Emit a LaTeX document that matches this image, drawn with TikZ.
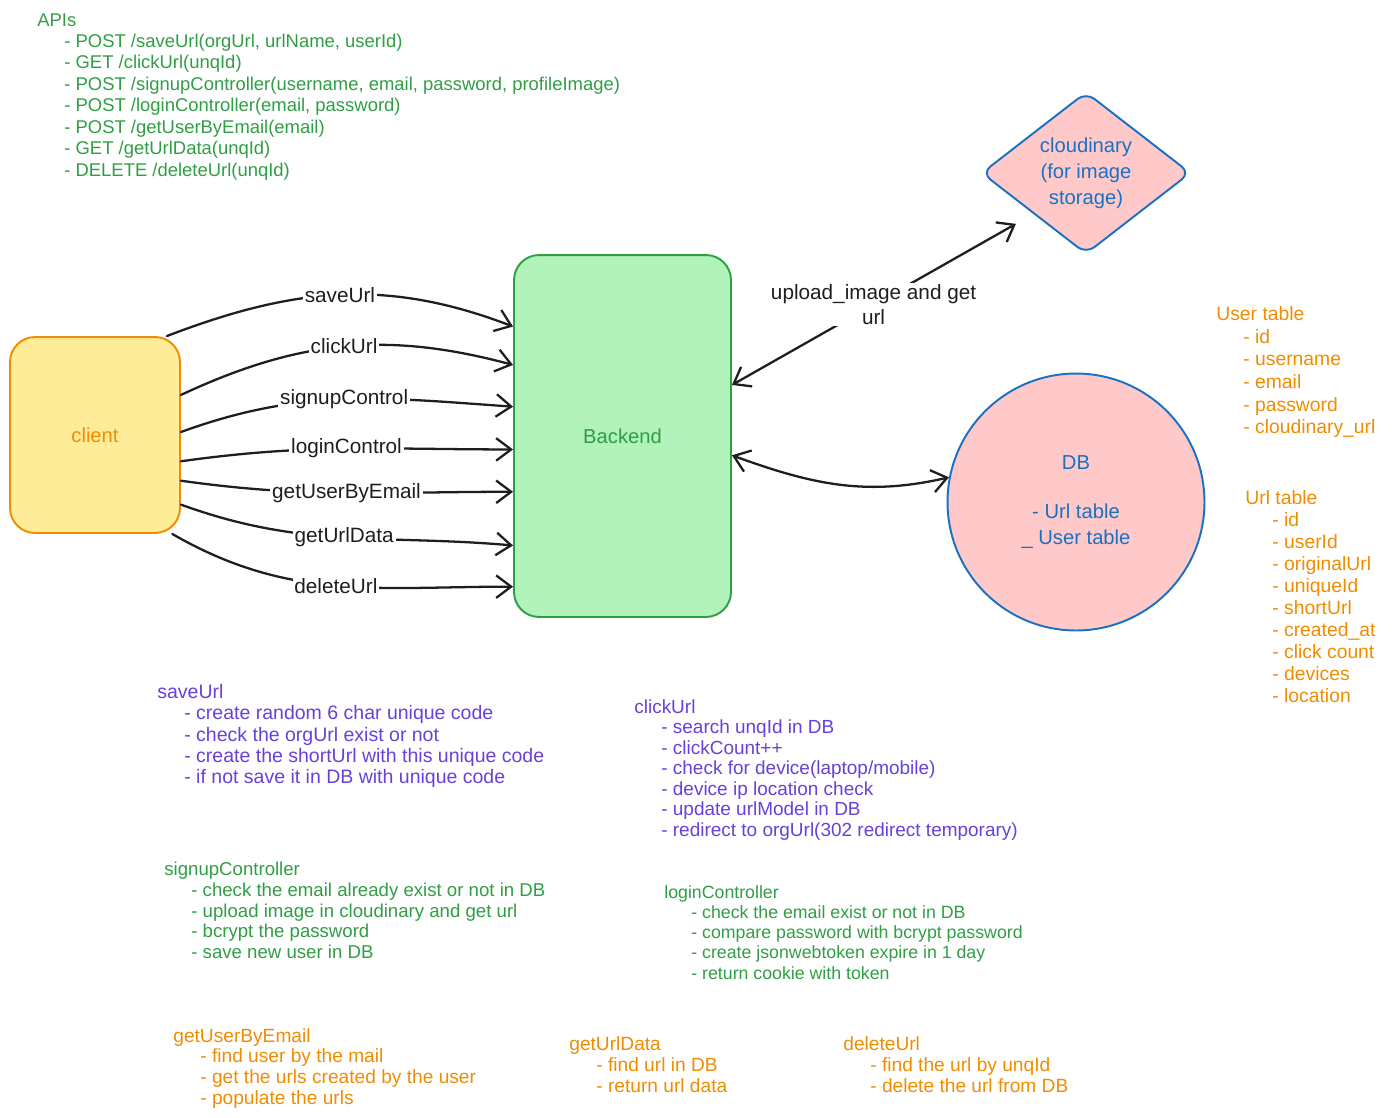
\documentclass[tikz,border=0pt]{standalone}
\usepackage{fontspec}
\setmainfont{Liberation Sans}
\usetikzlibrary{arrows.meta,shapes.geometric,calc}
\definecolor{inkgreen}{HTML}{2F9E44}
\definecolor{inkviolet}{HTML}{6741D9}
\definecolor{inkorange}{HTML}{F08C00}
\definecolor{inkblue}{HTML}{1971C2}
\definecolor{ink}{HTML}{1E1E1E}
\definecolor{fillyellow}{HTML}{FFEC99}
\definecolor{fillgreen}{HTML}{B2F2BB}
\definecolor{fillpink}{HTML}{FFC9C9}
\newcommand{\ind}{\hspace*{0.54cm}}
\tikzset{
    block/.style = {draw, rectangle, rounded corners=0.5cm, line width=1.1pt,
        font=\fontsize{11.5}{14}\selectfont},
    store/.style = {draw=inkblue, fill=fillpink, line width=1.1pt, align=center,
        text=inkblue, font=\fontsize{11.5}{14.7}\selectfont},
    note/.style = {anchor=north west, align=left, inner sep=0pt,
        font=\fontsize{10.5}{12.2}\selectfont},
    lbl/.style = {fill=white, inner sep=1pt, text=ink, align=center,
        font=\fontsize{11.8}{14.2}\selectfont},
    flow/.style = {draw=ink, line width=1.3pt, line cap=round,
        -{Straight Barb[length=3mm,width=4.5mm]}},
    both/.style = {flow, {Straight Barb[length=3mm,width=4.5mm]}-{Straight Barb[length=3mm,width=4.5mm]}}
}
\begin{document}
\begin{tikzpicture}[x=0.02cm, y=-0.02cm]
    \useasboundingbox (0,0) rectangle (1393,1117);
    \node [block, draw=inkorange, fill=fillyellow, text=inkorange, minimum width=3.4cm, minimum height=3.92cm] (client) at (95,435) {client};
    \node [block, draw=inkgreen, fill=fillgreen, text=inkgreen, minimum width=4.34cm, minimum height=7.24cm] (backend) at (622.5,436) {Backend};
    \node [store, diamond, aspect=1.29, minimum width=4.18cm, minimum height=3.24cm, inner sep=0pt, rounded corners=6pt] (cloud) at (1086,173) {cloudinary\\(for image\\storage)};
    \node [store, circle, minimum size=5.14cm] (db) at (1076,502) {DB\\[0.48cm]- Url table\\\_ User table};
    \foreach \lbl/\a/\b/\o/\i in {saveUrl/54/135.7/21/159, clickUrl/25/147.2/25/165, signupControl/2/165.5/20/176,
        loginControl/-17/187.4/8/180, getUserByEmail/-28/207.3/-8/180, getUrlData/-39.5/225.1/-20/175, deleteUrl/-52/234.5/-30/180}{
        \draw [flow] (client.\a) to[out=\o, in=\i] node[lbl] (l\lbl) {\lbl} (backend.\b);
    }
    \draw [both, shorten >=0.4cm] (backend.25) -- node[lbl, pos=0.47] (lupload) {upload\_image and get\\url} (cloud.south west);
    \draw [both] (backend.-10) to[out=-20, in=193] (db.169);
    \node [note, text=inkgreen] (apis) at (37,13) {APIs\\
        \ind- POST /saveUrl(orgUrl, urlName, userId)\\
        \ind- GET /clickUrl(unqId)\\
        \ind- POST /signupController(username, email, password, profileImage)\\
        \ind- POST /loginController(email, password)\\
        \ind- POST /getUserByEmail(email)\\
        \ind- GET /getUrlData(unqId)\\
        \ind- DELETE /deleteUrl(unqId)};
    \node [note, text=inkorange, font=\fontsize{11}{12.9}\selectfont] (usertbl) at (1216,306) {User table\\
        \ind- id\\ \ind- username\\ \ind- email\\ \ind- password\\ \ind- cloudinary\_url};
    \node [note, text=inkorange, font=\fontsize{11}{12.5}\selectfont] (urltbl) at (1245,490) {Url table\\
        \ind- id\\ \ind- userId\\ \ind- originalUrl\\ \ind- uniqueId\\ \ind- shortUrl\\ \ind- created\_at\\
        \ind- click count\\ \ind- devices\\ \ind- location};
    \node [note, text=inkviolet, font=\fontsize{11.1}{12.1}\selectfont] (savenote) at (157,684) {saveUrl\\
        \ind- create random 6 char unique code\\
        \ind- check the orgUrl exist or not\\
        \ind- create the shortUrl with this unique code\\
        \ind- if not save it in DB with unique code};
    \node [note, text=inkviolet, font=\fontsize{10.8}{11.7}\selectfont] (clicknote) at (634,699) {clickUrl\\
        \ind- search unqId in DB\\
        \ind- clickCount++\\
        \ind- check for device(laptop/mobile)\\
        \ind- device ip location check\\
        \ind- update urlModel in DB\\
        \ind- redirect to orgUrl(302 redirect temporary)};
    \node [note, text=inkgreen, font=\fontsize{10.6}{11.75}\selectfont] (signupnote) at (164,862) {signupController\\
        \ind- check the email already exist or not in DB\\
        \ind- upload image in cloudinary and get url\\
        \ind- bcrypt the password\\
        \ind- save new user in DB};
    \node [note, text=inkgreen, font=\fontsize{10.1}{11.5}\selectfont] (loginnote) at (664,885) {loginController\\
        \ind- check the email exist or not in DB\\
        \ind- compare password with bcrypt password\\
        \ind- create jsonwebtoken expire in 1 day\\
        \ind- return cookie with token};
    \node [note, text=inkorange, font=\fontsize{10.9}{11.75}\selectfont] (usernote) at (173,1028) {getUserByEmail\\
        \ind- find user by the mail\\
        \ind- get the urls created by the user\\
        \ind- populate the urls};
    \node [note, text=inkorange, font=\fontsize{10.9}{11.9}\selectfont] (datanote) at (569,1036) {getUrlData\\
        \ind- find url in DB\\
        \ind- return url data};
    \node [note, text=inkorange, font=\fontsize{10.9}{11.9}\selectfont] (deletenote) at (843,1036) {deleteUrl\\
        \ind- find the url by unqId\\
        \ind- delete the url from DB};
\end{tikzpicture}
\end{document}
